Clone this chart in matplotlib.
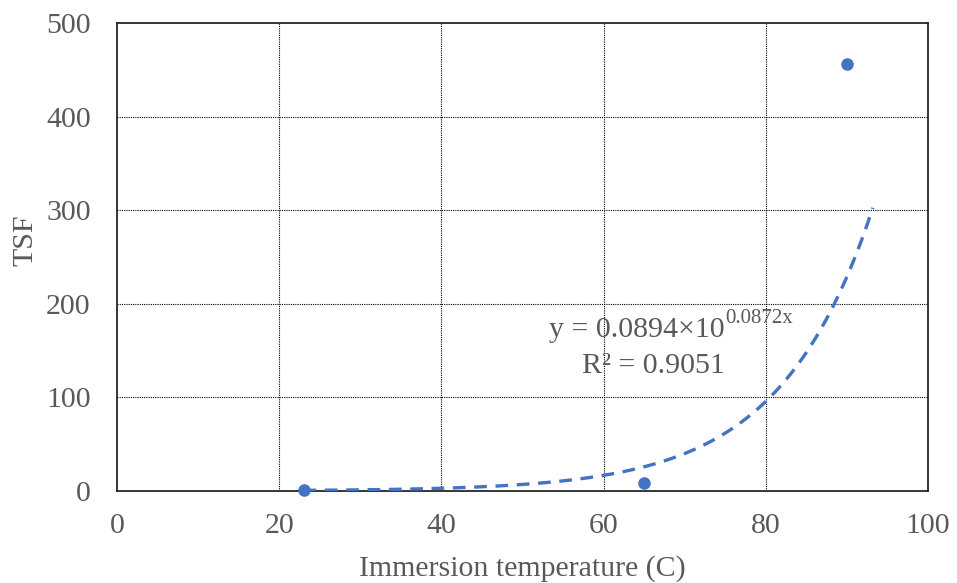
import numpy as np
import matplotlib
matplotlib.use("Agg")
import matplotlib.pyplot as plt

# measured points (immersion temperature, TSF)
temps = [23, 65, 90]
tsf = [1, 8.2, 456]

# trendline as reported on the chart: y = a * e^(b x)
trend_a = 0.0894
trend_b = 0.0872
trend_x_start = 23
trend_x_end = 93.2

x_ticks = [0, 20, 40, 60, 80, 100]
y_ticks = [0, 100, 200, 300, 400, 500]

blue = "#4472C4"
gray = "#595959"
fs = 21.5

plt.rcParams["font.family"] = ["Liberation Serif", "DejaVu Serif"]

fig = plt.figure(figsize=(9.57, 5.83), dpi=100)
ax = fig.add_axes([0.1223, 0.1578, 0.8474, 0.8027])

tx = np.linspace(trend_x_start, trend_x_end, 200)
ty = trend_a * np.exp(trend_b * tx)
ax.plot(tx, ty, color=blue, lw=2.4, dashes=(3.8, 2.6), zorder=3)

ax.plot(temps, tsf, "o", color=blue, markersize=8, zorder=4, clip_on=False)

ax.set_xlim(0, 100)
ax.set_ylim(0, 500)
ax.set_xticks(x_ticks)
ax.set_yticks(y_ticks)
ax.tick_params(length=0, labelsize=fs, labelcolor=gray)
ax.tick_params(axis="x", pad=16)
ax.tick_params(axis="y", pad=19)

for v in x_ticks[1:-1]:
    ax.axvline(v, color="black", lw=0.8, ls=(0, (1, 1)), zorder=1)
for v in y_ticks[1:-1]:
    ax.axhline(v, color="black", lw=0.8, ls=(0, (1, 1)), zorder=1)

for sp in ax.spines.values():
    sp.set_color("#262626")
    sp.set_linewidth(1.3)

ax.set_xlabel("Immersion temperature (C)", fontsize=fs, color=gray)
ax.xaxis.set_label_coords(0.5, -0.136)
ax.set_ylabel("TSF", fontsize=fs, color=gray)
ax.yaxis.set_label_coords(-0.097, 0.536)

eq = ax.text(53.3, 165, "y = 0.0894×10", fontsize=fs, color=gray,
             ha="left", va="baseline")
ax.annotate("0.0872x", xy=(1.0, 0.93), xycoords=eq, fontsize=15,
            color=gray, ha="left", va="center")
ax.text(57.3, 126, "R² = 0.9051", fontsize=fs, color=gray,
        ha="left", va="baseline")

fig.savefig("out.png", dpi=100)
